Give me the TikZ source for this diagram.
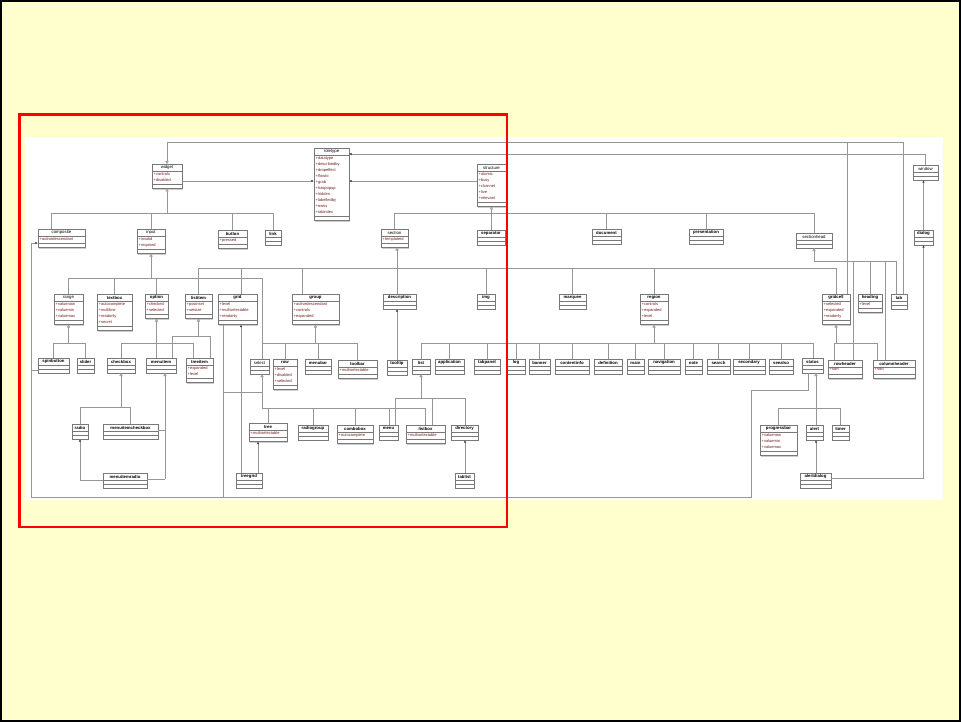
\documentclass[tikz,border=0pt]{standalone}
\usepackage{fontspec}
\setmainfont{Liberation Sans}
\usetikzlibrary{arrows.meta}
\definecolor{bgyellow}{RGB}{255,255,206}
\definecolor{linec}{RGB}{150,150,150}
\definecolor{boxc}{RGB}{120,120,120}
\definecolor{attrc}{RGB}{110,30,30}
\definecolor{shadowc}{RGB}{205,205,205}
\tikzset{
 clsbox/.style={draw=boxc, fill=white, line width=0.5pt, inner sep=0, outer sep=0},
 clsline/.style={draw=boxc, line width=0.4pt},
 tb/.style={font=\fontsize{4.3}{5}\selectfont\bfseries, inner sep=0},
 tr/.style={font=\fontsize{4.3}{5}\selectfont, inner sep=0},
 attr/.style={font=\fontsize{4}{6}\selectfont, text=attrc, align=left, inner sep=0},
 conn/.style={draw=linec, line width=0.6pt},
 gen/.style={conn, -{Triangle[open, length=3pt, width=3.2pt, fill=white]}},
 agg/.style={conn, -{Latex[length=2.6pt, width=2.4pt, color=black!75]}},
}
\newcommand\cls[8]{%
 \pgfmathsetmacro\clsA{#7>0 ? 6*#7+1.5 : 4}%
 \pgfmathsetmacro\clsH{11+\clsA}%
 \pgfmathsetmacro\clsW{#4-#2}%
 \fill[shadowc] (#2+1.2,#3+1.2) rectangle (#4+1.2,#3+\clsH+1.2);
 \node[clsbox, minimum width=\clsW pt, minimum height=\clsH pt, anchor=north west] (#1) at (#2,#3) {};
 \draw[clsline] (#2,#3+7) -- (#4,#3+7);
 \draw[clsline] (#2,#3+7+\clsA) -- (#4,#3+7+\clsA);
 \node[#5] at ({(#2+#4)/2},#3+3.7) {#6};
 \ifnum#7>0 \node[attr, anchor=north west] at (#2+1.5,#3+8) {#8};\fi
}
\begin{document}
\begin{tikzpicture}[x=1pt,y=-1pt]
\useasboundingbox (0,0) rectangle (961,722);
\fill[bgyellow] (0,0) rectangle (961,722);
\draw[black, line width=2.4pt] (1.2,1.2) rectangle (959.8,720.8);
\fill[white] (25,137) rectangle (943,500);

% level 0/1
\cls{roletype}{314}{148}{349}{tr}{roletype}{10}{+datatype\\+describedby\\+dropeffect\\+flowto\\+grab\\+haspopup\\+hidden\\+labelledby\\+owns\\+tabindex}
\cls{widget}{152}{164}{182}{tr}{widget}{2}{+controls\\+disabled}
\cls{structure}{477}{164}{506}{tr}{structure}{5}{+atomic\\+busy\\+channel\\+live\\+relevant}
\cls{window}{913}{165}{938}{tr}{window}{0}{}
% level 2
\cls{composite}{38}{229}{85}{tr}{composite}{1}{+activedescendant}
\cls{input}{137}{229}{165}{tr}{input}{2}{+invalid\\+required}
\cls{button}{218}{230}{247}{tb}{button}{1}{+pressed}
\cls{link}{265}{230}{281}{tb}{link}{0}{}
\cls{section}{381}{229}{408}{tr}{section}{1}{+templateid}
\cls{separator}{477}{230}{505}{tb}{separator}{0}{}
\cls{document}{592}{229}{621}{tb}{document}{0}{}
\cls{presentation}{689}{229}{723}{tb}{presentation}{0}{}
\cls{sectionhead}{796}{233}{832}{tr}{sectionhead}{0}{}
\cls{dialog}{914}{230}{933}{tb}{dialog}{0}{}
% row 2
\cls{range}{54}{294}{83}{tr}{range}{3}{+valuenow\\+valuemin\\+valuemax}
\cls{textbox}{97}{294}{132}{tb}{textbox}{4}{+autocomplete\\+multiline\\+readonly\\+secret}
\cls{option}{145}{294}{168}{tb}{option}{2}{+checked\\+selected}
\cls{listitem}{185}{294}{212}{tb}{listitem}{2}{+posinset\\+setsize}
\cls{grid}{218}{294}{257}{tb}{grid}{3}{+level\\+multiselectable\\+readonly}
\cls{group}{292}{294}{339}{tb}{group}{3}{+activedescendant\\+controls\\+expanded}
\cls{description}{383}{294}{416}{tb}{description}{0}{}
\cls{img}{477}{294}{495}{tb}{img}{0}{}
\cls{marquee}{559}{294}{586}{tb}{marquee}{0}{}
\cls{region}{640}{294}{668}{tb}{region}{3}{+controls\\+expanded\\+level}
\cls{gridcell}{822}{294}{850}{tb}{gridcell}{3}{+selected\\+expanded\\+readonly}
\cls{heading}{858}{294}{882}{tb}{heading}{1}{+level}
\cls{tab}{891}{294}{907}{tb}{tab}{0}{}
% row 3
\cls{spinbutton}{38}{358}{69}{tb}{spinbutton}{0}{}
\cls{slider}{77}{358}{94}{tb}{slider}{0}{}
\cls{checkbox}{107}{358}{135}{tb}{checkbox}{0}{}
\cls{menuitem}{146}{358}{176}{tb}{menuitem}{0}{}
\cls{treeitem}{186}{358}{213}{tb}{treeitem}{2}{+expanded\\+level}
\cls{select}{250}{359}{269}{tr}{select}{0}{}
\cls{row}{273}{359}{297}{tb}{row}{3}{+level\\+disabled\\+selected}
\cls{menubar}{305}{359}{331}{tb}{menubar}{0}{}
\cls{toolbar}{338}{360}{377}{tb}{toolbar}{1}{+multiselectable}
\cls{tooltip}{387}{360}{407}{tb}{tooltip}{0}{}
\cls{list}{412}{359}{430}{tb}{list}{0}{}
\cls{application}{435}{359}{464}{tb}{application}{0}{}
\cls{tabpanel}{474}{359}{500}{tb}{tabpanel}{0}{}
\cls{log}{507}{359}{525}{tb}{log}{0}{}
\cls{banner}{529}{359}{550}{tb}{banner}{0}{}
\cls{contentinfo}{555}{359}{589}{tb}{contentinfo}{0}{}
\cls{definition}{594}{359}{622}{tb}{definition}{0}{}
\cls{main}{627}{359}{644}{tb}{main}{0}{}
\cls{navigation}{648}{359}{680}{tb}{navigation}{0}{}
\cls{note}{685}{359}{702}{tb}{note}{0}{}
\cls{search}{707}{359}{730}{tb}{search}{0}{}
\cls{secondary}{733}{359}{765}{tb}{secondary}{0}{}
\cls{seealso}{769}{359}{793}{tb}{seealso}{0}{}
\cls{status}{802}{358}{823}{tb}{status}{0}{}
\cls{rowheader}{828}{360}{862}{tb}{rowheader}{1}{+sort}
\cls{columnheader}{873}{360}{915}{tb}{columnheader}{1}{+sort}
% row 4
\cls{radio}{72}{424}{88}{tb}{radio}{0}{}
\cls{menuitemcheckbox}{103}{424}{158}{tb}{menuitemcheckbox}{0}{}
\cls{tree}{249}{423}{287}{tb}{tree}{1}{+multiselectable}
\cls{radiogroup}{298}{425}{328}{tb}{radiogroup}{0}{}
\cls{combobox}{337}{425}{373}{tb}{combobox}{1}{+autocomplete}
\cls{menu}{379}{425}{398}{tb}{menu}{0}{}
\cls{listbox}{406}{425}{445}{tb}{listbox}{1}{+multiselectable}
\cls{directory}{451}{425}{478}{tb}{directory}{0}{}
\cls{progressbar}{760}{425}{797}{tb}{progressbar}{3}{+valuenow\\+valuemin\\+valuemax}
\cls{alert}{806}{425}{823}{tb}{alert}{0}{}
\cls{timer}{832}{425}{849}{tb}{timer}{0}{}
% row 5
\cls{menuitemradio}{103}{473}{147}{tb}{menuitemradio}{0}{}
\cls{treegrid}{236}{473}{262}{tb}{treegrid}{0}{}
\cls{tablist}{455}{473}{474}{tb}{tablist}{0}{}
\cls{alertdialog}{800}{473}{831}{tb}{alertdialog}{0}{}

% ---- connectors ----
\draw[agg] (widget.east |- 0,181) -- (roletype.west |- 0,181);
\draw[agg] (structure.west |- 0,181) -- (roletype.east |- 0,181);
\draw[agg] (window.north) |- (roletype.east |- 0,154);
\draw[gen] (903,0 |- tab.north) |- (widget.north |- 0,142) -- (widget.north);
\draw[conn] (847,142) -- (847,0 |- gridcell.north);
% widget children
\draw[gen] (widget.south |- 0,213) -- (widget.south);
\draw[conn] (51,213) -- (link.north |- 0,213);
\draw[conn] (51,213) -- (51,0 |- composite.north);
\draw[conn] (input.north |- 0,213) -- (input.north);
\draw[conn] (button.north |- 0,213) -- (button.north);
\draw[conn] (link.north |- 0,213) -- (link.north);
% structure children
\draw[gen] (491.5,0 |- separator.north) -- (structure.south);
\draw[conn] (section.north |- 0,213) -- (sectionhead.north |- 0,213);
\draw[conn] (section.north |- 0,213) -- (section.north);
\draw[conn] (document.north |- 0,213) -- (document.north);
\draw[conn] (presentation.north |- 0,213) -- (presentation.north);
\draw[conn] (sectionhead.north |- 0,213) -- (sectionhead.north);
% input children
\draw[gen] (input.south |- 0,278) -- (input.south);
\draw[conn] (range.north |- 0,278) -- (262,278) -- (262,0 |- select.north);
\draw[conn] (range.north |- 0,278) -- (range.north);
\draw[conn] (textbox.north |- 0,278) -- (textbox.north);
\draw[conn] (option.north |- 0,278) -- (option.north);
% section children
\draw[gen] (397,0 |- description.north) -- (397,0 |- section.south);
\draw[conn] (listitem.north |- 0,268) -- (gridcell.north |- 0,268);
\draw[conn] (listitem.north |- 0,268) -- (listitem.north);
\draw[conn] (241,268) -- (241,0 |- grid.north);
\draw[conn] (302,268) -- (302,0 |- group.north);
\draw[conn] (img.north |- 0,268) -- (img.north);
\draw[conn] (marquee.north |- 0,268) -- (marquee.north);
\draw[conn] (region.north |- 0,268) -- (region.north);
\draw[conn] (gridcell.north |- 0,268) -- (gridcell.north);
% range children
\draw[gen] (range.south |- 0,343) -- (range.south);
\draw[conn] (spinbutton.north) |- (slider.north |- 0,343) -- (slider.north);
% option children
\draw[gen] (option.south |- menuitem.north) -- (option.south);
\draw[conn] (checkbox.north) |- (193,343) -- (193,0 |- treeitem.north);
% listitem children
\draw[gen] (listitem.south |- 0,336) -- (listitem.south);
\draw[conn] (172,0 |- menuitem.north) |- (210,336) -- (210,0 |- treeitem.north);
% checkbox children
\draw[gen] (checkbox.south |- 0,407) -- (checkbox.south);
\draw[conn] (radio.north) |- (130,407) -- (130,0 |- menuitemcheckbox.north);
% menuitem children
\draw[gen] (165,479) -- (165,0 |- menuitem.south);
\draw[conn] (menuitemcheckbox.east |- 0,430) -- (165,430);
\draw[conn] (menuitemradio.east |- 0,479) -- (165,479);
\draw[agg] (menuitemradio.west |- 0,480) -| (radio.south);
% grid / tree
\draw[agg] (241,0 |- treegrid.north) -- (241,0 |- grid.south);
\draw[agg] (258,0 |- treegrid.north) -- (258,0 |- tree.south);
\draw[conn] (223,0 |- grid.south) -- (223,497);
% composite bus
\draw[agg] (31,497) -- (31,243) -- (composite.west |- 0,243);
\draw[conn] (31,497) -- (751,497) -- (751,390) -- (808,390) -- (808,0 |- status.south);
\draw[conn] (31,370) -- (spinbutton.west |- 0,370);
\draw[conn] (223,392) -- (262,392);
% select children
\draw[gen] (262,408) -- (262,0 |- select.south);
\draw[conn] (262,408) -- (425,408);
\draw[conn] (268,408) -- (268,0 |- tree.north);
\draw[conn] (radiogroup.north |- 0,408) -- (radiogroup.north);
\draw[conn] (combobox.north |- 0,408) -- (combobox.north);
\draw[conn] (389,408) -- (389,0 |- menu.north);
\draw[conn] (425,408) -- (425,0 |- listbox.north);
% group children
\draw[gen] (group.south |- 0,343) -- (group.south);
\draw[conn] (262,343) -- (toolbar.north |- 0,343);
\draw[conn] (row.north |- 0,343) -- (row.north);
\draw[conn] (menubar.north |- 0,343) -- (menubar.north);
\draw[conn] (toolbar.north |- 0,343) -- (toolbar.north);
% description -> tooltip
\draw[agg] (397,0 |- tooltip.north) -- (397,0 |- description.south);
% region children
\draw[gen] (region.south |- 0,343) -- (region.south);
\draw[conn] (list.north |- 0,343) -- (813,343) -- (813,0 |- status.north);
\foreach \n in {list,application,tabpanel,log,banner,contentinfo,definition,main,navigation,note,search,secondary,seealso}
  \draw[conn] (\n.north |- 0,343) -- (\n.north);
% list children
\draw[gen] (list.south |- 0,398) -- (list.south);
\draw[conn] (395,0 |- menu.north) |- (465,398) -- (465,0 |- directory.north);
\draw[conn] (432,398) -- (432,0 |- listbox.north);
\draw[agg] (465,0 |- tablist.north) -- (465,0 |- directory.south);
% status children
\draw[gen] (816,408) -- (816,0 |- status.south);
\draw[conn] (progressbar.north) |- (timer.north |- 0,408) -- (timer.north);
\draw[conn] (816,408) -- (816,0 |- alert.north);
\draw[agg] (816,0 |- alertdialog.north) -- (816,0 |- alert.south);
% window / dialog
\draw[agg] (923.5,0 |- dialog.north) -- (923.5,0 |- window.south);
\draw[agg] (alertdialog.east |- 0,478) -| (923.5,0 |- dialog.south);
% gridcell children
\draw[gen] (gridcell.south |- 0,343) -- (gridcell.south);
\draw[conn] (834,0 |- rowheader.north) |- (877,343) -- (877,0 |- columnheader.north);
% sectionhead children
\draw[gen] (sectionhead.south |- 0,261) -- (sectionhead.south);
\draw[conn] (sectionhead.south |- 0,261) -- (896,261) -- (896,0 |- tab.north);
\draw[conn] (853,261) -- (853,0 |- rowheader.north);
\draw[conn] (heading.north |- 0,261) -- (heading.north);
\draw[conn] (885,261) -- (885,0 |- columnheader.north);

% highlight
\draw[red, line width=2.2pt] (19.5,114.5) rectangle (507,527);
\end{tikzpicture}
\end{document}
